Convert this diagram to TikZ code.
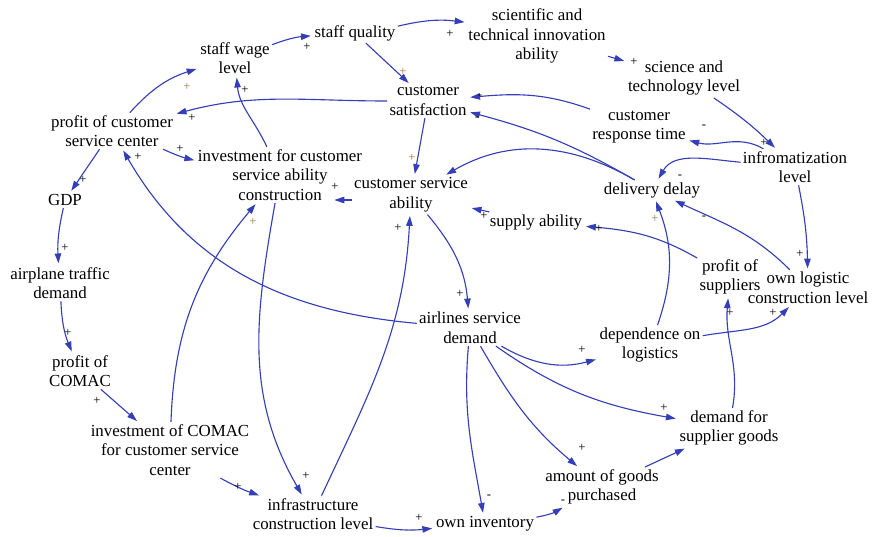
\documentclass[tikz,border=0pt]{standalone}
\usepackage{fontspec}
\setmainfont{Liberation Serif}
\usepackage{tikz}
\usetikzlibrary{arrows.meta}

\definecolor{linkblue}{RGB}{52,62,182}
\definecolor{signbrown}{RGB}{160,120,60}

\begin{document}
\begin{tikzpicture}[
        x=0.025cm, y=0.025cm,
        var/.style={align=center, inner sep=1.5pt, font=\fontsize{12}{14}\selectfont},
        link/.style={-{Triangle[length=7pt,width=4.6pt]}, draw=linkblue,
                     line width=0.8pt, shorten >=1pt},
        sign/.style={inner sep=0pt, font=\fontsize{9}{9}\selectfont},
    ]
    \useasboundingbox (0,0) rectangle (877,-537);

    % variables
    \node[var] (wage)    at (235,-58)  {staff wage\\level};
    \node[var] (quality) at (355,-33)  {staff quality};
    \node[var] (innov)   at (537,-36)  {scientific and\\technical innovation\\ability};
    \node[var] (scitech) at (684,-78)  {science and\\technology level};
    \node[var] (satis)   at (428,-101) {customer\\satisfaction};
    \node[var] (resp)    at (639,-127) {customer\\response time};
    \node[var] (info)    at (795,-167) {infromatization\\level};
    \node[var] (pcsc)    at (112,-131) {profit of customer\\service center};
    \node[var] (invest)  at (280,-175) {investment for customer\\service ability\\construction};
    \node[var] (csa)     at (411,-195) {customer service\\ability};
    \node[var] (delay)   at (652,-190) {delivery delay};
    \node[var] (supply)  at (536,-222) {supply ability};
    \node[var] (gdp)     at (65,-200)  {GDP};
    \node[var] (traffic) at (60,-283)  {airplane traffic\\demand};
    \node[var] (pcomac)  at (80,-371)  {profit of\\COMAC};
    \node[var] (icomac)  at (170,-450) {investment of COMAC\\for customer service\\center};
    \node[var] (infra)   at (313,-514) {infrastructure\\construction level};
    \node[var] (inv)     at (485,-524) {own inventory};
    \node[var] (goods)   at (602,-487) {amount of goods\\purchased};
    \node[var] (dsg)     at (729,-428) {demand for\\supplier goods};
    \node[var] (dlog)    at (650,-345) {dependence on\\logistics};
    \node[var] (asd)     at (470,-328) {airlines service\\demand};
    \node[var] (psup)    at (730,-277) {profit of\\suppliers};
    \node[var] (ownlog)  at (808,-288) {own logistic\\construction level};
    \coordinate (invest-end) at (333,-200);

    % causal links
    \draw[link] (pcsc) to[bend left=15] (wage);
    \draw[link] (wage) to[bend left=8] (quality);
    \draw[link] (quality) to[bend left=10] (innov);
    \draw[link] (quality) -- (satis);
    \draw[link] (innov) -- (scitech);
    \draw[link] (scitech) to[bend left=5] (info);
    \draw[link] (info) to[out=150,in=-15] (resp);
    \draw[link] (info) to[out=175,in=60] (delay);
    \draw[link] (info) to[bend left=5] (ownlog);
    \draw[link] (resp) to[out=160,in=5] (satis);
    \draw[link] (delay) to[out=150,in=-15] (satis);
    \draw[link] (delay) to[out=150,in=30] (csa);
    \draw[link] (satis) -- (csa);
    \draw[link] (satis) to[out=180,in=15] (pcsc);
    \draw[link] (invest) to[out=115,in=-85] (wage);
    \draw[link] (pcsc) to[bend right=5] (invest);
    \draw[link] (csa.west |- invest-end) -- (invest-end);
    \draw[link] (pcsc) -- (gdp);
    \draw[link] (gdp) to[bend right=8] (traffic);
    \draw[link] (traffic) to[bend right=10] (pcomac);
    \draw[link] (pcomac) -- (icomac);
    \draw[link] (icomac) to[bend right=5] (infra);
    \draw[link] (icomac) to[out=88,in=-130] (invest);
    \draw[link] (invest) to[out=-100,in=120] (infra);
    \draw[link] (infra) to[out=65,in=-93] (csa);
    \draw[link] (asd) to[out=175,in=-60] (pcsc);
    \draw[link] (csa) to[out=-50,in=95] (asd);
    \draw[link] (infra) to[bend right=8] (inv);
    \draw[link] (asd) to[out=-95,in=100] (inv);
    \draw[link] (inv) to[bend right=10] (goods);
    \draw[link] (asd) to[out=-60,in=140] (goods);
    \draw[link] (asd) to[out=-35,in=170] (dsg);
    \draw[link] (asd) to[out=-30,in=195] (dlog);
    \draw[link] (goods) -- (dsg);
    \draw[link] (dsg) to[out=80,in=-95] (psup);
    \draw[link] (dlog) to[bend right=20] (delay);
    \draw[link] (dlog) to[out=10,in=-135] (ownlog);
    \draw[link] (ownlog) to[out=135,in=-25] (delay);
    \draw[link] (psup) to[out=150,in=-5] (supply);
    \draw[link] (supply) -- (csa);

    % polarity signs
    \foreach \x/\y/\s [count=\i] in {307/47/+, 450/34/+, 634/62/+, 764/143/+, 704/127/-,
            680/177/-, 800/254/+, 480/97/-, 477/119/-, 192/118/+, 245/90/+, 180/149/+,
            335/187/+, 83/180/+, 65/248/+, 68/333/+, 97/401/+, 238/487/+, 306/476/+,
            398/228/+, 138/157/+, 460/294/+, 419/518/+, 489/497/-, 563/502/-, 582/448/+,
            664/408/+, 582/350/+, 730/313/+, 773/313/+, 704/218/-, 599/229/+, 484/216/+}
        \node[sign] (s\i) at (\x,-\y) {\s};
    \foreach \x/\y [count=\i] in {187/87, 403/72, 412/158, 253/222, 655/219}
        \node[sign, text=signbrown] (b\i) at (\x,-\y) {+};
\end{tikzpicture}
\end{document}
